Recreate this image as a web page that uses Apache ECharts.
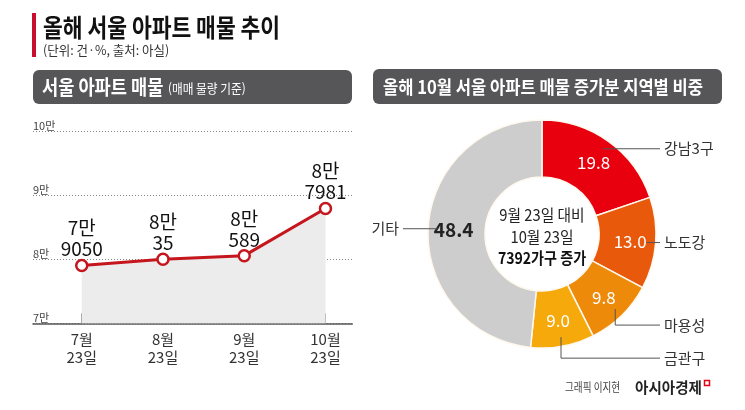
<!DOCTYPE html>
<html>
<head>
<meta charset="utf-8">
<script src="https://cdn.jsdelivr.net/npm/echarts@6/dist/echarts.min.js"></script>
<style>
html,body{margin:0;padding:0;background:#fff;}
#c{width:745px;height:410px;}
</style>
</head>
<body>
<div id="c"></div>
<script>
// ---- data ----
const categories = ['7월\n23일', '8월\n23일', '9월\n23일', '10월\n23일'];
const listings = [79050, 80035, 80589, 87981];
const yTickValues = [70000, 80000, 90000, 100000];
const regions = ['강남3구', '노도강', '마용성', '금관구', '기타'];
const shares = [19.8, 13.0, 9.8, 9.0, 48.4];
const centerLines = ['9월 23일 대비', '10월 23일', '7392가구 증가'];

// ---- styles ----
const FONT = "'Noto Sans CJK KR', 'Noto Sans', sans-serif";
const regionColors = ['#e8000f', '#e9590c', '#ee8a0a', '#f5a90b', '#cdcdcd'];
const PIE_C = [542, 234];
const PIE_R = [57, 114];
const drops = [0, 0, 16, 21, 0];

const chart = echarts.init(document.getElementById('c'), null, {renderer: 'canvas'});

const total = shares.reduce((a, b) => a + b, 0);
function midAngle(i) {
  let before = 0;
  for (let k = 0; k < i; k++) before += shares[k];
  const frac = (before + shares[i] / 2) / total;
  return Math.PI / 2 - frac * 2 * Math.PI;
}

const idx = categories.map((c, i) => i);

const option = {
  animation: false,
  textStyle: {fontFamily: FONT},
  grid: {left: 33, right: 392.7, top: 131.7, bottom: 86.7},
  xAxis: {
    type: 'value', min: -0.6, max: 3.33,
    axisLine: {onZero: false, lineStyle: {color: '#555', width: 1.5}},
    axisTick: {customValues: idx, inside: true, length: 10, lineStyle: {color: '#999'}},
    axisLabel: {customValues: idx, formatter: v => categories[Math.round(v)],
      fontSize: 15, lineHeight: 18, color: '#333', margin: 7, fontFamily: FONT},
    splitLine: {show: false}
  },
  yAxis: {
    type: 'value', min: 70000, max: 100000, interval: 10000,
    axisLine: {show: false}, axisTick: {show: false},
    axisLabel: {inside: true, margin: 0, verticalAlign: 'bottom', fontSize: 11, color: '#444',
      fontFamily: FONT, formatter: v => (yTickValues.indexOf(v) >= 0 ? (v / 10000) + '만' : '')},
    splitLine: {lineStyle: {type: [1, 2], color: '#888', width: 1}}
  },
  series: [
    {
      type: 'line',
      data: listings.map((v, i) => [i, v]),
      lineStyle: {color: '#c4161c', width: 3},
      symbol: 'circle', symbolSize: 11,
      itemStyle: {color: '#fff', borderColor: '#c4161c', borderWidth: 2.5},
      areaStyle: {color: '#ececec', opacity: 1},
      label: {show: true, position: 'top', distance: -1, fontSize: 19, lineHeight: 21, color: '#111',
        fontFamily: FONT,
        formatter: p => Math.floor(p.value[1] / 10000) + '만\n' + (p.value[1] % 10000)},
      z: 3
    },
    {
      type: 'pie',
      center: PIE_C, radius: PIE_R,
      startAngle: 90, clockwise: true,
      avoidLabelOverlap: false,
      itemStyle: {borderColor: '#fff8ee', borderWidth: 1.5},
      label: {show: true, position: 'inside', fontSize: 17, color: '#fff', fontFamily: FONT,
        formatter: p => p.value.toFixed(1)},
      labelLine: {show: false},
      data: regions.map((n, i) => ({
        name: n, value: shares[i], itemStyle: {color: regionColors[i]},
        label: i === 4 ? {color: '#222', fontWeight: 'bold', fontSize: 19} : {}
      }))
    },
    {
      type: 'pie',
      center: PIE_C, radius: PIE_R,
      startAngle: 90, clockwise: true,
      avoidLabelOverlap: false,
      silent: true,
      itemStyle: {color: 'rgba(0,0,0,0)', borderWidth: 0},
      label: {show: true, position: 'outside', fontSize: 15, color: '#333', fontFamily: FONT,
        formatter: p => p.name},
      labelLine: {show: true, lineStyle: {color: '#555', width: 1}},
      labelLayout: function (p) {
        const i = p.dataIndex;
        const a = midAngle(i);
        const r = PIE_R[1] * 0.92;
        const sx = PIE_C[0] + r * Math.cos(a);
        const sy = PIE_C[1] - r * Math.sin(a);
        if (i === 4) {
          const ex = 403;
          return {x: ex - 4, y: sy, align: 'right', verticalAlign: 'middle',
            labelLinePoints: [[sx, sy], [ex, sy], [ex, sy]]};
        }
        const ly = sy + drops[i];
        const ex = 660;
        return {x: ex + 4, y: ly, align: 'left', verticalAlign: 'middle',
          labelLinePoints: [[sx, sy], [sx, ly], [ex, ly]]};
      },
      data: regions.map((n, i) => ({name: n, value: shares[i]})),
      z: 5
    }
  ],
  graphic: [
    {type: 'rect', shape: {x: 32, y: 13, width: 4, height: 44}, style: {fill: '#c8102e'}},
    {type: 'text', x: 43, y: 27, scaleX: 0.86,
      style: {text: '올해 서울 아파트 매물 추이', font: 'bold 25px ' + FONT, fill: '#111', verticalAlign: 'middle'}},
    {type: 'text', x: 43, y: 50, scaleX: 0.96,
      style: {text: '(단위: 건·%, 출처: 아실)', font: '13px ' + FONT, fill: '#333', verticalAlign: 'middle'}},
    {type: 'rect', shape: {x: 33, y: 70, width: 319, height: 34, r: 6}, style: {fill: '#565658'}},
    {type: 'text', x: 42, y: 87, scaleX: 0.88,
      style: {text: '서울 아파트 매물', font: 'bold 20px ' + FONT, fill: '#fff', verticalAlign: 'middle'}},
    {type: 'text', x: 168, y: 88, scaleX: 0.9,
      style: {text: '(매매 물량 기준)', font: '13px ' + FONT, fill: '#fff', verticalAlign: 'middle'}},
    {type: 'rect', shape: {x: 373, y: 69, width: 349, height: 35, r: 6}, style: {fill: '#565658'}},
    {type: 'text', x: 383, y: 87, scaleX: 0.92,
      style: {text: '올해 10월 서울 아파트 매물 증가분 지역별 비중', font: 'bold 18px ' + FONT, fill: '#fff', verticalAlign: 'middle'}},
    {type: 'text', x: PIE_C[0], y: 215, scaleX: 0.92,
      style: {text: centerLines[0], font: '16px ' + FONT, fill: '#222', align: 'center', verticalAlign: 'middle'}},
    {type: 'text', x: PIE_C[0], y: 237, scaleX: 0.92,
      style: {text: centerLines[1], font: '16px ' + FONT, fill: '#222', align: 'center', verticalAlign: 'middle'}},
    {type: 'text', x: PIE_C[0], y: 258, scaleX: 0.88,
      style: {text: centerLines[2], font: 'bold 16px ' + FONT, fill: '#111', align: 'center', verticalAlign: 'middle'}},
    {type: 'text', x: 565, y: 387, scaleX: 0.8,
      style: {text: '그래픽 이지현', font: '12px ' + FONT, fill: '#444', verticalAlign: 'middle'}},
    {type: 'text', x: 635, y: 387, scaleX: 0.97,
      style: {text: '아시아경제', font: 'bold 15px ' + FONT, fill: '#222', verticalAlign: 'middle'}},
    {type: 'rect', shape: {x: 704.5, y: 380.5, width: 5, height: 5}, style: {fill: 'none', stroke: '#e60012', lineWidth: 1.5}}
  ]
};
chart.setOption(option);
</script>
</body>
</html>
